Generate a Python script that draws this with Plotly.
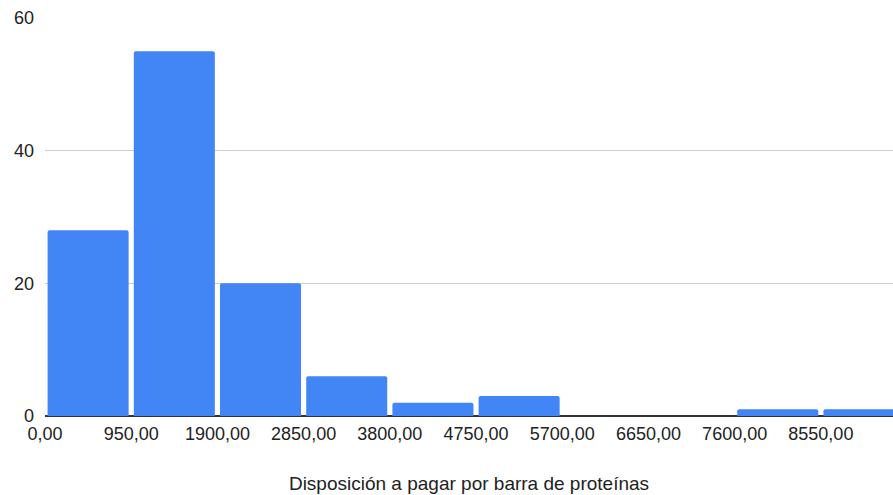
import plotly.graph_objects as go

# Histogram bins (left edges, width 950) and counts per bin
bin_starts = [0, 950, 1900, 2850, 3800, 4750, 5700, 6650, 7600, 8550]
bin_width = 950
counts = [28, 55, 20, 6, 2, 3, 0, 0, 1, 1]

tick_values = [0, 950, 1900, 2850, 3800, 4750, 5700, 6650, 7600, 8550]
tick_labels = ["0,00", "950,00", "1900,00", "2850,00", "3800,00",
               "4750,00", "5700,00", "6650,00", "7600,00", "8550,00"]

centers = [s + bin_width / 2 for s in bin_starts]

fig = go.Figure(
    go.Bar(
        x=centers,
        y=counts,
        width=[bin_width * 0.94] * len(centers),
        marker=dict(color="#4285F4", line=dict(width=0)),
        hoverinfo="x+y",
    )
)

font_family = "Arial, 'Liberation Sans', sans-serif"
text_color = "#222222"

fig.update_layout(
    width=893,
    height=495,
    margin=dict(l=45, r=0, t=18, b=79),
    paper_bgcolor="white",
    plot_bgcolor="white",
    barcornerradius=2,
    showlegend=False,
    font=dict(family=font_family, size=18, color=text_color),
    xaxis=dict(
        range=[0, 9345],
        tickmode="array",
        tickvals=tick_values,
        ticktext=tick_labels,
        showgrid=False,
        zeroline=False,
        showline=False,
        ticks="",
        ticklabelstandoff=5,
        tickfont=dict(size=18, color=text_color),
        title=dict(text="Disposición a pagar por barra de proteínas",
                   font=dict(size=19, color=text_color), standoff=33),
    ),
    yaxis=dict(
        range=[0, 60],
        tickvals=[0, 20, 40, 60],
        showgrid=True,
        gridcolor="#cccccc",
        gridwidth=1,
        zeroline=True,
        zerolinecolor="#333333",
        zerolinewidth=1.5,
        ticks="",
        ticklabelstandoff=10,
        tickfont=dict(size=18, color=text_color),
    ),
)

fig.write_html("out.html")
